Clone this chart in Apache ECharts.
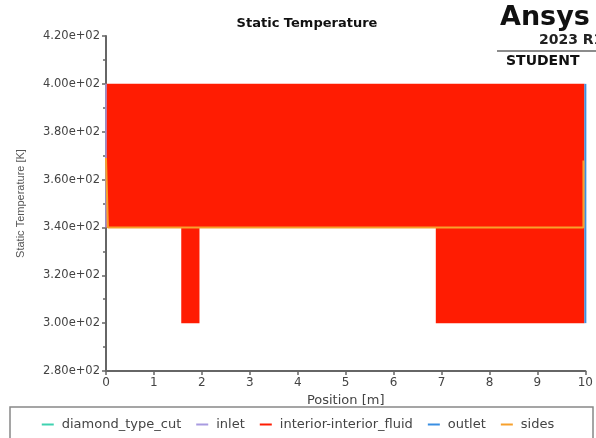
<!DOCTYPE html>
<html>
<head>
<meta charset="utf-8">
<script src="https://cdn.jsdelivr.net/npm/echarts@6/dist/echarts.min.js"></script>
<style>
  html, body { margin: 0; padding: 0; background: #fff; }
  #chart { width: 596px; height: 438px; }
</style>
</head>
<body>
<div id="chart"></div>
<script>
// Static temperature along position, per boundary zone
var seriesNames = ['diamond_type_cut', 'inlet', 'interior-interior_fluid', 'outlet', 'sides'];
var seriesColors = ['#3fd2b0', '#a89be0', '#ff1c02', '#3a8fe2', '#f7a02c'];

// interior fluid: outline of the filled region [position m, temperature K]
var fluidX = [0, 0, 9.98, 9.98, 6.88, 6.88, 1.95, 1.95, 1.57, 1.57];
var fluidY = [340, 400, 400, 300, 300, 340, 340, 300, 300, 340];

// boundary traces
var diamondX = [];
var diamondY = [];
var inletX = [0, 0];
var inletY = [340, 400];
var outletX = [10, 10];
var outletY = [300, 400];
var sidesX = [0, 0.04, 9.96, 9.96];
var sidesY = [369, 340, 340, 368];

// axis ticks
var xTicks = [0, 1, 2, 3, 4, 5, 6, 7, 8, 9, 10];
var yTicks = [280, 300, 320, 340, 360, 380, 400, 420];

function pairs(xs, ys) {
  return xs.map(function (x, i) { return [x, ys[i]]; });
}

var chart = echarts.init(document.getElementById('chart'), null, { renderer: 'canvas' });

var axisFont = 'DejaVu Sans';

var option = {
  animation: false,
  backgroundColor: '#ffffff',
  title: {
    text: 'Static Temperature',
    left: 302,
    top: 12,
    textAlign: 'center',
    textStyle: { fontFamily: axisFont, fontWeight: 'bold', fontSize: 13, color: '#111' }
  },
  grid: { left: 106, right: 9, top: 36, bottom: 67, containLabel: false },
  xAxis: {
    type: 'value',
    min: xTicks[0],
    max: xTicks[xTicks.length - 1],
    interval: 1,
    name: 'Position [m]',
    nameLocation: 'middle',
    nameGap: 19,
    nameTextStyle: { fontFamily: axisFont, fontSize: 13, color: '#444' },
    axisLine: { show: true, onZero: false, lineStyle: { color: '#666', width: 2 } },
    axisTick: { show: true, length: 4, lineStyle: { color: '#666', width: 1.5 } },
    axisLabel: {
      margin: 6, fontFamily: axisFont, fontSize: 12, color: '#444',
      formatter: function (v) { return xTicks.indexOf(v) >= 0 ? String(v) : ''; }
    },
    splitLine: { show: false }
  },
  yAxis: {
    type: 'value',
    min: yTicks[0],
    max: yTicks[yTicks.length - 1],
    interval: 20,
    name: 'Static Temperature [K]',
    nameLocation: 'middle',
    nameGap: 80,
    nameRotate: 90,
    nameTextStyle: { fontFamily: 'Liberation Sans', fontSize: 11, color: '#555' },
    axisLine: { show: true, onZero: false, lineStyle: { color: '#666', width: 2 } },
    axisTick: { show: true, length: 4, lineStyle: { color: '#666', width: 1.5 } },
    minorTick: { show: true, splitNumber: 2, length: 3, lineStyle: { color: '#666', width: 1.5 } },
    axisLabel: {
      margin: 6, fontFamily: axisFont, fontSize: 11.5, color: '#444',
      formatter: function (v) { return v.toExponential(2).replace('e+2', 'e+02'); }
    },
    splitLine: { show: false }
  },
  legend: {
    data: seriesNames,
    left: 'center',
    top: 418,
    padding: 0,
    itemGap: 15,
    itemWidth: 12,
    itemHeight: 2,
    icon: 'rect',
    textStyle: { fontFamily: axisFont, fontSize: 13, color: '#444', padding: [0, 0, 0, 3] }
  },
  graphic: [
    { type: 'rect', shape: { x: 10, y: 407, width: 583, height: 50 },
      style: { fill: 'none', stroke: '#888', lineWidth: 1.5 }, silent: true },
    { type: 'text', left: 500, top: 4,
      style: { text: 'Ansys', font: 'bold 27px "DejaVu Sans"', fill: '#111' } },
    { type: 'text', left: 539, top: 33,
      style: { text: '2023 R1', font: 'bold 14px "DejaVu Sans"', fill: '#222' } },
    { type: 'line', shape: { x1: 497, y1: 51, x2: 596, y2: 51 },
      style: { stroke: '#666', lineWidth: 1.5 } },
    { type: 'text', left: 506, top: 54,
      style: { text: 'STUDENT', font: 'bold 14px "DejaVu Sans"', fill: '#111' } }
  ],
  series: [
    {
      name: seriesNames[0], type: 'line', data: pairs(diamondX, diamondY),
      showSymbol: false, color: seriesColors[0], lineStyle: { width: 1.5 }
    },
    {
      name: seriesNames[2], type: 'custom', color: seriesColors[2],
      itemStyle: { color: seriesColors[2] },
      data: [0],
      z: 1,
      renderItem: function (params, api) {
        var pts = fluidX.map(function (x, i) { return api.coord([x, fluidY[i]]); });
        return {
          type: 'polygon',
          shape: { points: pts },
          style: { fill: seriesColors[2] }
        };
      }
    },
    {
      name: seriesNames[1], type: 'line', data: pairs(inletX, inletY), z: 3,
      showSymbol: false, color: seriesColors[1], lineStyle: { width: 1.5 }
    },
    {
      name: seriesNames[3], type: 'line', data: pairs(outletX, outletY), z: 3,
      showSymbol: false, color: seriesColors[3], lineStyle: { width: 2 }
    },
    {
      name: seriesNames[4], type: 'line', data: pairs(sidesX, sidesY), z: 4,
      showSymbol: false, color: seriesColors[4], lineStyle: { width: 2 }
    }
  ]
};

chart.setOption(option);
</script>
</body>
</html>
